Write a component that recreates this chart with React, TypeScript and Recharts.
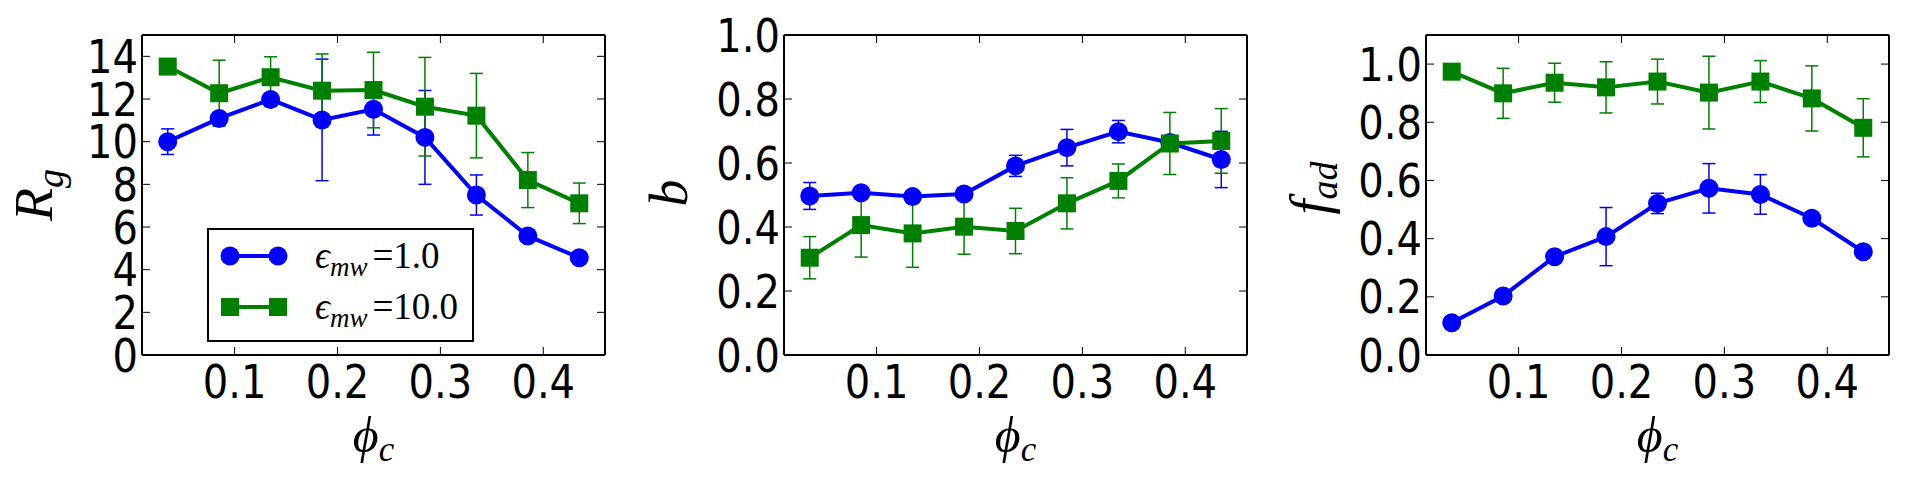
import React from 'react';
import { LineChart, Line, XAxis, YAxis, ErrorBar, Legend } from 'recharts';

// ---------- data ----------
const phi = [0.035, 0.085, 0.135, 0.185, 0.235, 0.285, 0.335, 0.385, 0.435];
const xTicks = [0.1, 0.2, 0.3, 0.4];

const rgTicks = [0, 2, 4, 6, 8, 10, 12, 14];
const rgEps1 = [10.0, 11.09, 11.98, 11.02, 11.52, 10.2, 7.5, 5.58, 4.56];
const rgEps1Err = [0.6, 0.2, 0.15, 2.85, 1.21, 2.2, 0.94, 0.15, 0.1];
const rgEps10 = [13.52, 12.27, 13.02, 12.39, 12.42, 11.64, 11.22, 8.2, 7.11];
const rgEps10Err = [0.1, 1.55, 0.96, 1.72, 1.77, 2.31, 1.98, 1.29, 0.95];

const bTicks = [0, 0.2, 0.4, 0.6, 0.8, 1.0];
const bEps1 = [0.497, 0.507, 0.495, 0.503, 0.591, 0.648, 0.698, 0.664, 0.611];
const bEps1Err = [0.042, 0.01, 0.01, 0.012, 0.033, 0.057, 0.035, 0.01, 0.088];
const bEps10 = [0.304, 0.406, 0.38, 0.401, 0.3875, 0.474, 0.544, 0.661, 0.669];
const bEps10Err = [0.066, 0.1, 0.106, 0.086, 0.071, 0.08, 0.053, 0.097, 0.101];

const fTicks = [0, 0.2, 0.4, 0.6, 0.8, 1.0];
const fEps1 = [0.111, 0.203, 0.338, 0.407, 0.521, 0.573, 0.552, 0.47, 0.355];
const fEps1Err = [0.005, 0.01, 0.01, 0.1, 0.035, 0.085, 0.068, 0.01, 0.01];
const fEps10 = [0.974, 0.8995, 0.936, 0.92, 0.94, 0.902, 0.94, 0.882, 0.781];
const fEps10Err = [0.005, 0.086, 0.067, 0.088, 0.077, 0.125, 0.072, 0.112, 0.1];

const legendLabels = ['1.0', '10.0'];

// ---------- style ----------
const BLUE = '#0000ff';
const GREEN = '#008000';
const TICK_FONT = "'DejaVu Sans', sans-serif";
const MATH_FONT = "'Liberation Serif', 'DejaVu Serif', serif";
const TICK_FS = 46;
const TICK_SX = 0.87;
const TICK_LEN = 8;
const H = 486;
const TOP = 35;
const BOTTOM = 131;
const PW = 463;
const LW = 4;
const R = 9.5;
const SQ = 18;

const TickText = ({ x, y, anchor, children }: any) => (
  <text
    transform={`translate(${x},${y}) scale(${TICK_SX},1)`}
    x={0}
    y={0}
    textAnchor={anchor}
    fontFamily={TICK_FONT}
    fontSize={TICK_FS}
    fill="#000"
  >
    {children}
  </text>
);

const XTickBottom = (props: any) => {
  const { x, y, payload } = props;
  return (
    <g>
      <line x1={x} y1={y} x2={x} y2={y - TICK_LEN} stroke="#000" strokeWidth={1} />
      <TickText x={x} y={y + 43} anchor="middle">
        {Number(payload.value).toFixed(1)}
      </TickText>
    </g>
  );
};
const XTickTop = (props: any) => {
  const { x, y } = props;
  return <line x1={x} y1={y} x2={x} y2={y + TICK_LEN} stroke="#000" strokeWidth={1} />;
};
const makeYTickLeft = (fmt: (v: number) => string) => (props: any) => {
  const { x, y, payload } = props;
  return (
    <g>
      <line x1={x} y1={y} x2={x + TICK_LEN} y2={y} stroke="#000" strokeWidth={1} />
      <TickText x={x - 4} y={y + TICK_FS * 0.36} anchor="end">
        {fmt(payload.value)}
      </TickText>
    </g>
  );
};
const YTickRight = (props: any) => {
  const { x, y } = props;
  return <line x1={x} y1={y} x2={x - TICK_LEN} y2={y} stroke="#000" strokeWidth={1} />;
};

const SquareDot = (props: any) => {
  const { cx, cy, index } = props;
  if (cx == null || cy == null) return <g key={`s${index}`} />;
  return <rect key={`s${index}`} x={cx - SQ / 2} y={cy - SQ / 2} width={SQ} height={SQ} fill={GREEN} />;
};
const CircleDot = (props: any) => {
  const { cx, cy, index } = props;
  if (cx == null || cy == null) return <g key={`c${index}`} />;
  return <circle key={`c${index}`} cx={cx} cy={cy} r={R} fill={BLUE} />;
};

const LegendBox = () => (
  <div style={{ width: 263, height: 110, border: '2px solid #000', background: '#fff' }}>
    <svg width={263} height={110} style={{ display: 'block' }}>
      {[BLUE, GREEN].map((c, i) => {
        const cy = i === 0 ? 26 : 77;
        return (
          <g key={i}>
            <line x1={21} y1={cy} x2={69} y2={cy} stroke={c} strokeWidth={LW} />
            {i === 0 ? (
              <>
                <circle cx={21} cy={cy} r={R} fill={c} />
                <circle cx={69} cy={cy} r={R} fill={c} />
              </>
            ) : (
              <>
                <rect x={21 - SQ / 2} y={cy - SQ / 2} width={SQ} height={SQ} fill={c} />
                <rect x={69 - SQ / 2} y={cy - SQ / 2} width={SQ} height={SQ} fill={c} />
              </>
            )}
            <text x={106} y={cy + 12} fontFamily={MATH_FONT} fontSize={37} fill="#000">
              <tspan fontStyle="italic">ϵ</tspan>
              <tspan fontStyle="italic" fontSize={27} dy={8}>mw</tspan>
              <tspan dy={-8} dx={5}>{'=' + legendLabels[i]}</tspan>
            </text>
          </g>
        );
      })}
    </svg>
  </div>
);

type PanelProps = {
  left: number;
  width: number;
  ml: number;
  yDomain: [number, number];
  yTicks: number[];
  fmt: (v: number) => string;
  blue: number[];
  blueErr: number[];
  green: number[];
  greenErr: number[];
  yLabel: () => React.ReactElement;
  legend?: boolean;
};

const Panel = ({ left, width, ml, yDomain, yTicks, fmt, blue, blueErr, green, greenErr, yLabel, legend }: PanelProps) => {
  const data = phi.map((x, i) => ({ x, b: blue[i], be: blueErr[i], g: green[i], ge: greenErr[i] }));
  const mr = width - ml - PW;
  const cx = ml + PW / 2;
  const YTickLeft = makeYTickLeft(fmt);
  const xLabel = () => (
    <text x={cx} y={452} textAnchor="middle" fontFamily={MATH_FONT} fontSize={50} fontStyle="italic" fill="#000">
      ϕ<tspan fontSize={35} dy={9}>c</tspan>
    </text>
  );
  return (
    <div style={{ position: 'absolute', left, top: 0, width, height: H }}>
      <LineChart width={width} height={H} data={data} margin={{ top: TOP - 1, bottom: BOTTOM - 1, left: ml - 1, right: mr - 1 }}>
        <XAxis
          xAxisId="b" type="number" dataKey="x" domain={[0.01, 0.46]} ticks={xTicks} interval={0}
          allowDataOverflow height={1} tickSize={0} tickMargin={0} tickLine={false}
          axisLine={{ stroke: '#000', strokeWidth: 2 }} tick={<XTickBottom />}
          label={xLabel as any}
        />
        <XAxis
          xAxisId="t" orientation="top" type="number" dataKey="x" domain={[0.01, 0.46]} ticks={xTicks} interval={0}
          allowDataOverflow height={1} tickSize={0} tickMargin={0} tickLine={false}
          axisLine={{ stroke: '#000', strokeWidth: 2 }} tick={<XTickTop />}
        />
        <YAxis
          yAxisId="l" type="number" domain={yDomain} ticks={yTicks} interval={0} allowDataOverflow
          width={1} tickSize={0} tickMargin={0} tickLine={false}
          axisLine={{ stroke: '#000', strokeWidth: 2 }} tick={<YTickLeft />}
          label={yLabel as any}
        />
        <YAxis
          yAxisId="r" orientation="right" type="number" domain={yDomain} ticks={yTicks} interval={0} allowDataOverflow
          width={1} tickSize={0} tickMargin={0} tickLine={false}
          axisLine={{ stroke: '#000', strokeWidth: 2 }} tick={<YTickRight />}
        />
        <Line xAxisId="b" yAxisId="l" dataKey="b" stroke={BLUE} strokeWidth={LW} dot={CircleDot} activeDot={false} isAnimationActive={false} legendType="none">
          <ErrorBar dataKey="be" direction="y" width={6.5} stroke={BLUE} strokeWidth={1.5} />
        </Line>
        <Line xAxisId="b" yAxisId="l" dataKey="g" stroke={GREEN} strokeWidth={LW} dot={SquareDot} activeDot={false} isAnimationActive={false} legendType="none">
          <ErrorBar dataKey="ge" direction="y" width={6.5} stroke={GREEN} strokeWidth={1.5} />
        </Line>
        {legend && (
          <Legend
            layout="horizontal" verticalAlign="middle" align="center"
            content={<LegendBox />}
            wrapperStyle={{ position: 'absolute', left: 207, top: 228, width: 267, height: 114 }}
          />
        )}
      </LineChart>
    </div>
  );
};

const rotLabel = (x: number, y: number, main: string, sub: string, dy: number) => () => (
  <text transform={`translate(${x},${y}) rotate(-90)`} textAnchor="middle" fontFamily={MATH_FONT} fontSize={54} fontStyle="italic" fill="#000">
    {main}
    {sub ? <tspan fontSize={38} dy={dy}>{sub}</tspan> : null}
  </text>
);

export default function App() {
  return (
    <div style={{ position: 'absolute', left: 0, top: 0, width: 1905, height: H, background: '#fff' }}>
      <Panel left={0} width={640} ml={142} yDomain={[0, 15]} yTicks={rgTicks} fmt={(v) => String(v)}
        blue={rgEps1} blueErr={rgEps1Err} green={rgEps10} greenErr={rgEps10Err}
        yLabel={rotLabel(52, 195, 'R', 'g', 11)} legend />
      <Panel left={640} width={640} ml={144} yDomain={[0, 1.0]} yTicks={bTicks} fmt={(v) => v.toFixed(1)}
        blue={bEps1} blueErr={bEps1Err} green={bEps10} greenErr={bEps10Err}
        yLabel={rotLabel(47, 193, 'b', '', 0)} />
      <Panel left={1280} width={625} ml={146} yDomain={[0, 1.1]} yTicks={fTicks} fmt={(v) => v.toFixed(1)}
        blue={fEps1} blueErr={fEps1Err} green={fEps10} greenErr={fEps10Err}
        yLabel={rotLabel(48, 188, 'f', 'ad', 9)} />
    </div>
  );
}
